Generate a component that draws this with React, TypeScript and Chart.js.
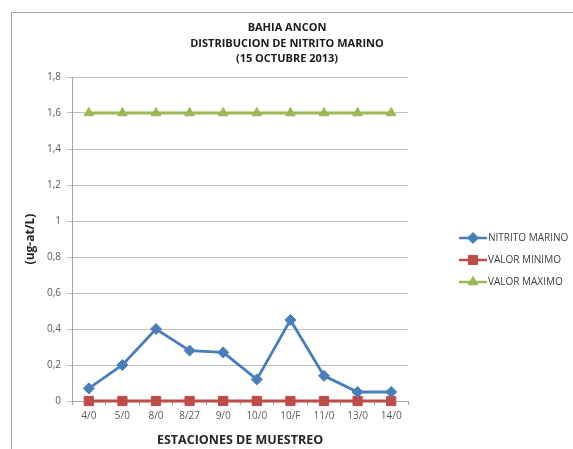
import React, { useEffect, useRef } from "react";
import { Chart, registerables, PointElement } from "chart.js";

Chart.register(...registerables);

const categories = ["4/0", "5/0", "8/0", "8/27", "9/0", "10/0", "10/F", "11/0", "13/0", "14/0"];
const nitritoMarino = [0.07, 0.2, 0.4, 0.28, 0.27, 0.12, 0.45, 0.14, 0.05, 0.05];
const valorMinimo = [0, 0, 0, 0, 0, 0, 0, 0, 0, 0];
const valorMaximo = [1.6, 1.6, 1.6, 1.6, 1.6, 1.6, 1.6, 1.6, 1.6, 1.6];
const titleLines = ["BAHIA ANCON", "DISTRIBUCION DE NITRITO MARINO", "(15 OCTUBRE 2013)"];
const yTitle = "(ug-at/L)";
const xTitle = "ESTACIONES DE MUESTREO";

const BLUE = "#4A7EBB";
const RED = "#BE4B48";
const GREEN = "#98B954";
const FONT = "'Open Sans', 'Liberation Sans', sans-serif";

const decorPlugin = {
  id: "decor",
  beforeDraw(chart: any) {
    const ctx = chart.ctx;
    ctx.save();
    ctx.fillStyle = "#ffffff";
    ctx.fillRect(0, 0, chart.width, chart.height);
    ctx.strokeStyle = "#A6A6A6";
    ctx.lineWidth = 1;
    ctx.strokeRect(11.5, 12.5, chart.width + 20, chart.height + 20);
    ctx.restore();
  },
  afterDraw(chart: any) {
    const ctx = chart.ctx;
    ctx.save();
    // Title
    ctx.fillStyle = "#1a1a1a";
    ctx.font = `bold 11px ${FONT}`;
    ctx.textAlign = "center";
    ctx.textBaseline = "middle";
    titleLines.forEach((t, i) => ctx.fillText(t, 287, 28 + i * 15.5));
    // Legend
    ctx.font = `10px ${FONT}`;
    ctx.textAlign = "left";
    chart.data.datasets.forEach((d: any, i: number) => {
      const y = 238 + i * 22;
      const x0 = 459;
      ctx.strokeStyle = d.borderColor;
      ctx.lineWidth = 2.5;
      ctx.beginPath();
      ctx.moveTo(x0, y);
      ctx.lineTo(x0 + 28, y);
      ctx.stroke();
      const meta = chart.getDatasetMeta(i);
      const el = meta.data[0];
      if (el) {
        const p: any = new PointElement({} as any);
        p.x = x0 + 14;
        p.y = y;
        p.options = el.options;
        p.draw(ctx);
      }
      ctx.fillStyle = "#404040";
      ctx.fillText(d.label, x0 + 29, y + 0.5);
    });
    ctx.restore();
  },
};

export default function App() {
  const ref = useRef<HTMLCanvasElement | null>(null);
  useEffect(() => {
    if (!ref.current) return;
    const chart = new Chart(ref.current, {
      type: "line",
      data: {
        labels: categories,
        datasets: [
          {
            label: "NITRITO MARINO",
            data: nitritoMarino,
            borderColor: BLUE,
            backgroundColor: BLUE,
            borderWidth: 2.8,
            pointStyle: "rectRot",
            pointRadius: 5.5,
            pointBorderWidth: 1,
            clip: false,
          },
          {
            label: "VALOR MINIMO",
            data: valorMinimo,
            borderColor: RED,
            backgroundColor: RED,
            borderWidth: 2.8,
            pointStyle: "rect",
            pointRadius: 6.5,
            pointBorderWidth: 1,
            clip: false,
          },
          {
            label: "VALOR MAXIMO",
            data: valorMaximo,
            borderColor: GREEN,
            backgroundColor: GREEN,
            borderWidth: 2.8,
            pointStyle: "triangle",
            pointRadius: 5.5,
            pointBorderWidth: 1,
            clip: false,
          },
        ],
      },
      plugins: [decorPlugin],
      options: {
        animation: false,
        responsive: false,
        maintainAspectRatio: false,
        layout: { padding: { left: 12, top: 77, right: 165, bottom: 1 } },
        plugins: {
          legend: { display: false },
          title: { display: false },
          tooltip: { enabled: false },
        },
        scales: {
          x: {
            offset: true,
            grid: {
              display: true,
              offset: true,
              drawOnChartArea: false,
              drawTicks: true,
              tickLength: 4,
              color: "#A6A6A6",
            },
            border: { display: true, color: "#A6A6A6", width: 1 },
            ticks: { color: "#595959", font: { family: FONT, size: 10 }, padding: 5, maxRotation: 0, autoSkip: false },
            title: {
              display: true,
              text: xTitle,
              color: "#262626",
              font: { family: FONT, size: 12.5, weight: "bold" },
              padding: { top: 6, bottom: 0 },
            },
          },
          y: {
            min: 0,
            max: 1.8,
            ticks: {
              stepSize: 0.2,
              color: "#595959",
              font: { family: FONT, size: 10 },
              padding: 6,
              callback: (v: any) => (Math.round(Number(v) * 10) / 10).toString().replace(".", ","),
            },
            grid: { color: "#BFBFBF", lineWidth: 1, tickLength: 5, drawTicks: true },
            border: { display: true, color: "#A6A6A6", width: 1 },
            title: {
              display: true,
              text: yTitle,
              color: "#262626",
              font: { family: FONT, size: 12, weight: "bold" },
              padding: { top: 11, bottom: 2 },
            },
            afterFit: (s: any) => {
              s.width = 60;
            },
          },
        },
      },
    });
    return () => chart.destroy();
  }, []);
  return (
    <div style={{ position: "absolute", left: 0, top: 0, width: 573, height: 449 }}>
      <canvas ref={ref} width={573} height={449} style={{ width: 573, height: 449 }} />
    </div>
  );
}
